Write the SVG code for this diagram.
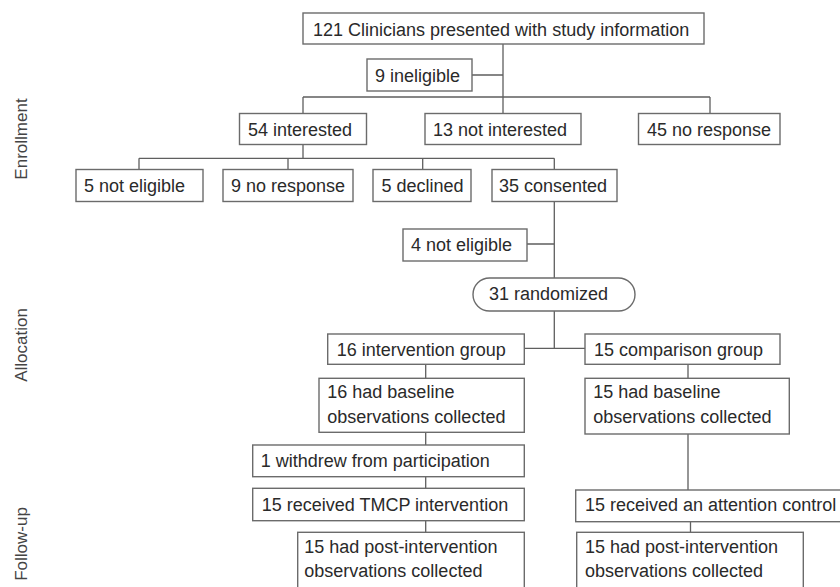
<svg xmlns="http://www.w3.org/2000/svg" width="840" height="587" viewBox="0 0 840 587">
<style>
.box{fill:#fff;stroke:#6b6b6b;stroke-width:1.4}
.t{font-family:"Liberation Sans",Arial,sans-serif;font-size:18px;fill:#2a2a2a}
.lbl{font-family:"Liberation Sans",Arial,sans-serif;font-size:17px;fill:#444;text-anchor:middle}
.ln{fill:none;stroke:#5f5f5f;stroke-width:1.3}
</style>
<rect width="840" height="587" fill="#fff"/>
<g id="phase-labels">
<text class="lbl" transform="translate(27,139) rotate(-90)">Enrollment</text>
<text class="lbl" transform="translate(27,345) rotate(-90)">Allocation</text>
<text class="lbl" transform="translate(27,544) rotate(-90)">Follow-up</text>
</g>
<g id="connectors">
<path class="ln" d="M503 44V97M472 75H503M303 97H710M303 97V113.5M503 97V113.5M710 97V113.5"/>
<path class="ln" d="M303 144.5V158.3M139 158.3H554.3M139 158.3V169.5M288 158.3V169.5M422.7 158.3V169.5M554.3 158.3V169.5"/>
<path class="ln" d="M554.3 201.5V278M527 244H554.3M554.3 311V348.3M524.3 348.3H585"/>
<path class="ln" d="M425.7 364.3V378.3M425.7 432.3V445M425.7 476.7V488.3M425.7 520.7V532.3"/>
<path class="ln" d="M688 364.3V378.3M688 434V490M690.5 521.7V532.3"/>
</g>
<g id="n-clinicians"><rect class="box" x="303" y="13" width="401" height="31"/><text class="t" x="313" y="36">121 Clinicians presented with study information</text></g>
<g id="n-ineligible"><rect class="box" x="367" y="59" width="105" height="32"/><text class="t" x="375" y="82">9 ineligible</text></g>
<g id="n-interested"><rect class="box" x="239.5" y="113.5" width="127" height="31"/><text class="t" x="248" y="136">54 interested</text></g>
<g id="n-notinterested"><rect class="box" x="425" y="113.5" width="156" height="31"/><text class="t" x="433" y="136">13 not interested</text></g>
<g id="n-noresponse45"><rect class="box" x="638.5" y="113.5" width="141.5" height="31"/><text class="t" x="647" y="136">45 no response</text></g>
<g id="n-noteligible5"><rect class="box" x="76" y="169.5" width="127" height="32"/><text class="t" x="84" y="192">5 not eligible</text></g>
<g id="n-noresponse9"><rect class="box" x="223" y="169.5" width="130" height="32"/><text class="t" x="231" y="192">9 no response</text></g>
<g id="n-declined"><rect class="box" x="373" y="169.5" width="98" height="32"/><text class="t" x="381.5" y="192">5 declined</text></g>
<g id="n-consented"><rect class="box" x="492" y="169.5" width="125" height="32"/><text class="t" x="499" y="192">35 consented</text></g>
<g id="n-noteligible4"><rect class="box" x="403" y="229" width="124" height="32"/><text class="t" x="411" y="251">4 not eligible</text></g>
<g id="n-randomized"><rect class="box" x="473" y="278" width="162" height="33" rx="16.5" ry="16.5"/><text class="t" x="489" y="300">31 randomized</text></g>
<g id="n-intervention"><rect class="box" x="327.7" y="334" width="196.6" height="30.3"/><text class="t" x="336.7" y="356">16 intervention group</text></g>
<g id="n-comparison"><rect class="box" x="585" y="334" width="195" height="30.3"/><text class="t" x="594" y="356">15 comparison group</text></g>
<g id="n-baseline16"><rect class="box" x="319" y="378.3" width="205.3" height="54"/><text class="t" x="327.3" y="398.3">16 had baseline</text><text class="t" x="327.3" y="422.7">observations collected</text></g>
<g id="n-baseline15"><rect class="box" x="585" y="378.3" width="204.3" height="55.7"/><text class="t" x="593.3" y="398.3">15 had baseline</text><text class="t" x="593.3" y="422.7">observations collected</text></g>
<g id="n-withdrew"><rect class="box" x="252.7" y="445" width="271.6" height="31.7"/><text class="t" x="260.7" y="466.7">1 withdrew from participation</text></g>
<g id="n-tmcp"><rect class="box" x="252.7" y="488.3" width="271.6" height="32.4"/><text class="t" x="261.7" y="510.7">15 received TMCP intervention</text></g>
<g id="n-attention"><rect class="box" x="575.7" y="490" width="270" height="31.7"/><text class="t" x="585" y="511">15 received an attention control</text></g>
<g id="n-post-left"><rect class="box" x="297.7" y="532.3" width="226.6" height="62"/><text class="t" x="304.3" y="553.3">15 had post-intervention</text><text class="t" x="304.3" y="577.3">observations collected</text></g>
<g id="n-post-right"><rect class="box" x="576.7" y="532.3" width="226.6" height="62"/><text class="t" x="585" y="553.3">15 had post-intervention</text><text class="t" x="585" y="577.3">observations collected</text></g>
</svg>
